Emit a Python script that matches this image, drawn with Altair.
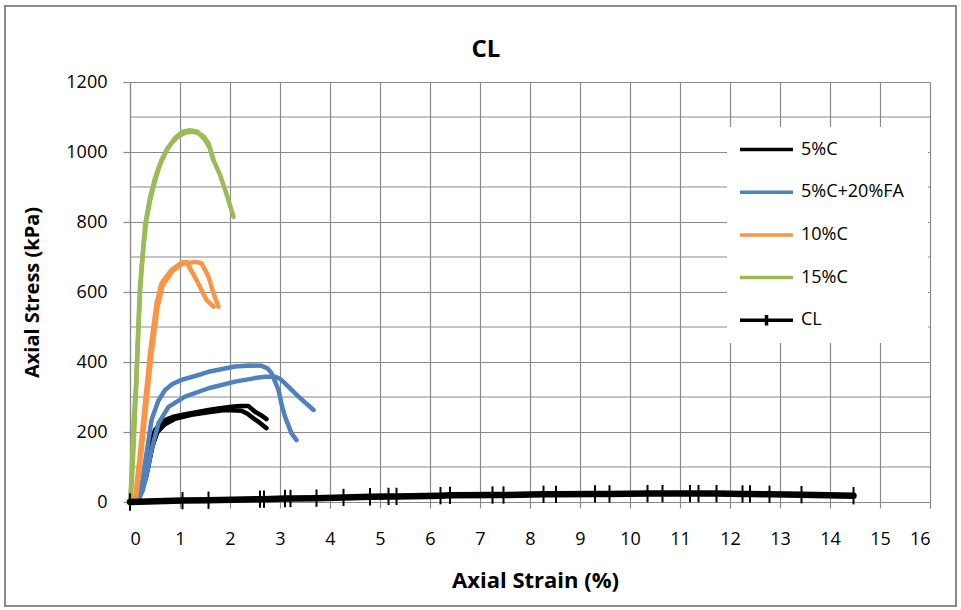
import altair as alt
import pandas as pd

# ---------------- data ----------------
series_names = ["5%C", "5%C+20%FA", "10%C", "15%C", "CL"]
series_colors = ["#000000", "#4F81BD", "#F79646", "#9BBB59", "#000000"]

c5a_strain = [0, 0.15, 0.3, 0.42, 0.5, 0.6, 0.7, 0.85, 1.03, 1.3, 1.57, 1.8, 2.03, 2.2, 2.37, 2.5, 2.62, 2.73]
c5a_stress = [0, 10, 80, 170, 206, 222, 234, 243, 249, 256, 263, 268, 272, 274, 274, 258, 248, 237]
c5b_strain = [0, 0.17, 0.32, 0.45, 0.55, 0.7, 0.9, 1.23, 1.6, 1.9, 2.23, 2.35, 2.47, 2.6, 2.73]
c5b_stress = [0, 8, 70, 160, 200, 222, 238, 249, 257, 263, 261, 252, 239, 226, 211]

fa_a_strain = [0, 0.1, 0.2, 0.33, 0.43, 0.5, 0.57, 0.7, 0.85, 1.03, 1.3, 1.57, 1.85, 2.1, 2.4, 2.63, 2.75, 2.83, 2.9, 2.97, 3.03, 3.1, 3.23, 3.33]
fa_a_stress = [0, 3, 15, 139, 234, 263, 290, 320, 337, 349, 360, 372, 380, 387, 390, 389, 382, 368, 345, 320, 280, 244, 196, 177]
fa_b_strain = [0, 0.15, 0.25, 0.35, 0.43, 0.57, 0.77, 1.1, 1.57, 2.1, 2.5, 2.7, 2.9, 3.0, 3.1, 3.37, 3.67]
fa_b_stress = [0, 5, 30, 90, 149, 225, 272, 301, 325, 344, 354, 358, 358, 352, 339, 301, 263]

c10a_strain = [0, 0.1, 0.2, 0.3, 0.4, 0.53, 0.63, 0.83, 1.03, 1.13, 1.33, 1.53, 1.67]
c10a_stress = [0, 10, 139, 282, 425, 568, 625, 663, 684, 686, 634, 577, 558]
c10b_strain = [0, 0.12, 0.22, 0.32, 0.42, 0.55, 0.65, 0.85, 1.05, 1.3, 1.43, 1.57, 1.67, 1.77]
c10b_stress = [0, 8, 130, 270, 410, 555, 618, 660, 680, 686, 682, 644, 596, 558]

c15a_strain = [0, 0.02, 0.05, 0.08, 0.12, 0.16, 0.2, 0.26, 0.33, 0.4, 0.47, 0.55, 0.63, 0.73, 0.83, 0.95, 1.1, 1.23, 1.35, 1.47, 1.57, 1.67, 1.8, 1.93, 2.07]
c15a_stress = [0, 44, 150, 250, 330, 480, 615, 720, 806, 860, 901, 942, 977, 1005, 1025, 1043, 1055, 1058, 1055, 1045, 1025, 977, 935, 880, 815]
c15b_strain = [0, 0.03, 0.07, 0.12, 0.2, 0.3, 0.4, 0.5, 0.6, 0.75, 0.9, 1.05, 1.2, 1.35, 1.5, 1.6, 1.67]
c15b_stress = [0, 40, 150, 320, 600, 790, 870, 925, 965, 1010, 1040, 1058, 1062, 1058, 1035, 1010, 975]

cl_strain = [0, 1.05, 1.57, 2.6, 2.68, 3.1, 3.21, 3.73, 4.27, 4.8, 5.17, 5.33, 6.21, 6.4, 7.25, 7.47,
             8.27, 8.52, 9.3, 9.59, 10.35, 10.65, 11.2, 11.37, 11.73, 12.25, 12.4, 12.79, 13.43, 14.47]
cl_stress = [0, 4, 5, 8, 8, 10, 10, 11, 13, 15, 16, 16, 18, 19, 20, 20,
             22, 22, 23, 23, 24, 24, 24, 24, 24, 23, 23, 22, 21, 18]

minor_grid_stress = [100, 300, 500, 700, 900, 1100]


def frame(series, specimen, strain, stress):
    return pd.DataFrame({"series": series, "specimen": specimen,
                         "strain": strain, "stress": stress,
                         "idx": list(range(len(strain)))})


df_c5 = pd.concat([frame("5%C", "a", c5a_strain, c5a_stress), frame("5%C", "b", c5b_strain, c5b_stress)])
df_fa = pd.concat([frame("5%C+20%FA", "a", fa_a_strain, fa_a_stress), frame("5%C+20%FA", "b", fa_b_strain, fa_b_stress)])
df_c10 = pd.concat([frame("10%C", "a", c10a_strain, c10a_stress), frame("10%C", "b", c10b_strain, c10b_stress)])
df_c15 = pd.concat([frame("15%C", "a", c15a_strain, c15a_stress), frame("15%C", "b", c15b_strain, c15b_stress)])
df_cl = frame("CL", "a", cl_strain, cl_stress)

# ---------------- styling ----------------
FONT = "Open Sans"
GRID = "#8a8a8a"

xscale = alt.Scale(domain=[0, 16], nice=False)
yscale = alt.Scale(domain=[0, 1200], nice=False)

x_enc = alt.X("strain:Q", scale=xscale, axis=alt.Axis(
    values=list(range(17)), format="d", title="Axial Strain (%)",
    grid=True, gridColor=GRID, gridWidth=1.2, gridOpacity=1,
    domainColor=GRID, domainWidth=1.2, tickColor=GRID, tickSize=6, tickWidth=1.2,
    labelFont=FONT, labelFontSize=18, labelColor="#000000", labelPadding=22,
    titleFont=FONT, titleFontSize=22, titleFontWeight="bold", titleColor="#000000",
    titleX=405, titleY=78, titleBaseline="middle"))

y_enc = alt.Y("stress:Q", scale=yscale, axis=alt.Axis(
    values=[0, 200, 400, 600, 800, 1000, 1200], format="d", title="Axial Stress (kPa)",
    grid=True, gridColor=GRID, gridWidth=1.2, gridOpacity=1,
    domainColor=GRID, domainWidth=1.2, tickColor=GRID, tickSize=7, tickWidth=1.2,
    labelFont=FONT, labelFontSize=18, labelColor="#000000", labelPadding=16,
    titleFont=FONT, titleFontSize=20, titleFontWeight="bold", titleColor="#000000",
    titleX=-98, titleY=210, titleBaseline="middle", titleAngle=-90))

legend = alt.Legend(
    orient="none", legendX=598, legendY=29, title=None,
    symbolType={"expr": "datum.value === 'CL' ? 'M-1,0H1M0,-0.2V0.2' : 'stroke'"},
    symbolSize=2809, symbolStrokeWidth=3.5,
    labelFont=FONT, labelFontSize=18, labelColor="#000000", labelOffset=6,
    padding=10, rowPadding=4.7)

color_enc = alt.Color("series:N", scale=alt.Scale(domain=series_names, range=series_colors), legend=legend)

minor = alt.Chart(pd.DataFrame({"stress": minor_grid_stress})).mark_rule(
    color=GRID, strokeWidth=1.2).encode(y=alt.Y("stress:Q", scale=yscale))

# white panel behind the legend (hides the grid, as in the original)
legend_panel = alt.Chart(pd.DataFrame({"k": [0]})).mark_rect(
    fill="#ffffff", stroke=None).encode(
    x=alt.value(597), x2=alt.value(798), y=alt.value(45), y2=alt.value(261))


def line_layer(df, width):
    return alt.Chart(df).mark_line(strokeWidth=width, strokeJoin="round", strokeCap="round").encode(
        x=x_enc, y=y_enc, color=color_enc, detail="specimen:N", order="idx:Q")


lines = [line_layer(df_c5, 4.5), line_layer(df_fa, 4.5), line_layer(df_c10, 4.5),
         line_layer(df_c15, 4.5), line_layer(df_cl, 6.5)]

markers = alt.Chart(df_cl).mark_point(shape="M0,-1V1", size=300, strokeWidth=2,
                                      color="#000000", filled=False, opacity=1).encode(
    x=alt.X("strain:Q", scale=xscale), y=alt.Y("stress:Q", scale=yscale))

border = alt.Chart(pd.DataFrame({"k": [0]})).mark_rect(
    fill=None, stroke="#8a8a8a", strokeWidth=2).encode(
    x=alt.value(-125), x2=alt.value(826), y=alt.value(-76), y2=alt.value(524))

chart = alt.layer(minor, legend_panel, *lines, markers, border).properties(
    width=800, height=420,
    title=alt.TitleParams("CL", font=FONT, fontSize=24, fontWeight="bold", color="#000000",
                          anchor="middle", dx=-44, offset=-57),
    autosize=alt.AutoSizeParams(type="none"),
    padding={"left": 130, "top": 82, "right": 31, "bottom": 108},
).configure_view(stroke=None).configure(background="#ffffff")

chart.save("out.html", embed_options={"renderer": "svg", "actions": False})
